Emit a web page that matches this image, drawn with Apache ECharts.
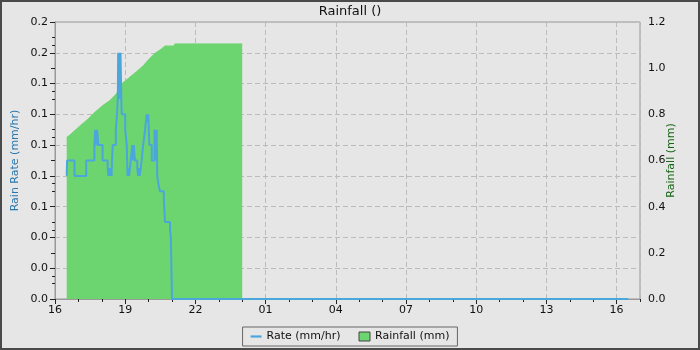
<!DOCTYPE html>
<html><head><meta charset="utf-8">
<script src="https://cdn.jsdelivr.net/npm/echarts@6/dist/echarts.min.js"></script>
<style>
html,body{margin:0;padding:0;background:#4a4a4a;}
#c{width:700px;height:350px;box-sizing:border-box;border:2px solid #4a4a4a;background:#e6e6e6;}
</style></head>
<body><div id="c"></div>
<script>
// x axis: hours after 16:00 (day 1); "+1 " prefix = next day
const xTickLabels = ['16','19','22','01','04','07','10','13','16'];
const rateTimes = ['16:30','16:31','16:50','17:20','17:41','17:43','17:44','17:45','17:47','17:48','17:51','18:02','18:15','18:17','18:19','18:21','18:23','18:25','18:26','18:28','18:36','18:39','18:41','18:42','18:44','18:45','18:47','18:48','18:50','18:51','19:00','19:04','19:06','19:08','19:10','19:12','19:14','19:18','19:20','19:22','19:25','19:31','19:33','19:35','19:37','19:40','19:42','19:46','19:51','19:55','19:57','19:59','20:02','20:08','20:15','20:17','20:18','20:20','20:21','20:22','20:25','20:29','20:39','20:42','20:55','20:57','21:00','+1 16:30'];
const rateValues = [0.08,0.09,0.08,0.09,0.10,0.11,0.10,0.11,0.10,0.11,0.10,0.09,0.085,0.08,0.085,0.08,0.085,0.08,0.09,0.10,0.11,0.12,0.13,0.16,0.13,0.16,0.13,0.16,0.13,0.12,0.11,0.10,0.08,0.085,0.08,0.085,0.09,0.10,0.09,0.10,0.09,0.085,0.08,0.085,0.08,0.085,0.09,0.10,0.11,0.12,0.115,0.12,0.10,0.09,0.11,0.09,0.11,0.10,0.11,0.08,0.075,0.07,0.065,0.05,0.045,0.04,0,0];
const rainTimes = ['16:30','16:38','16:51','17:04','17:25','17:43','18:04','18:21','18:38','18:49','19:04','19:29','19:46','19:59','20:16','20:32','20:42','21:06','21:07','+1 00:00'];
const rainValues = [0.70,0.71,0.73,0.75,0.78,0.81,0.84,0.86,0.89,0.93,0.95,0.985,1.01,1.035,1.064,1.082,1.096,1.096,1.105,1.105];

function toH(t){
  let day = 0;
  if (t.startsWith('+1 ')) { day = 1; t = t.slice(3); }
  const [h,m] = t.split(':').map(Number);
  return day*24 + h + m/60 - 16;
}
const rateData = rateTimes.map((t,i)=>[toH(t), rateValues[i]]);
const rainData = rainTimes.map((t,i)=>[toH(t), rainValues[i]]);

const FONT = 'DejaVu Sans';
const chart = echarts.init(document.getElementById('c'), null, {renderer:'canvas'});
chart.setOption({
  animation:false,
  backgroundColor:'#e6e6e6',
  textStyle:{fontFamily:FONT},
  title:{text:'Rainfall ()', left:'center', top:-2, textStyle:{fontFamily:FONT, fontSize:13, fontWeight:'normal', color:'#111'}},
  grid:{left:53, top:20, width:585, height:277, show:true, borderColor:'#999', borderWidth:1, backgroundColor:'transparent', containLabel:false, outerBoundsMode:'none'},
  legend:{
    top:325, left:'center', padding:[4,8,4,8], itemGap:18, itemWidth:11, itemHeight:9,
    borderColor:'#666', borderWidth:1, borderRadius:0,
    textStyle:{fontFamily:FONT, fontSize:11, color:'#111'},
    data:[
      {name:'Rate (mm/hr)', icon:'path://M0,0 L20,0 L20,4 L0,4 Z'},
      {name:'Rainfall (mm)', icon:'rect', itemStyle:{borderColor:'#444', borderWidth:1}}
    ]
  },
  xAxis:[{
    type:'value', min:0, max:25, interval:3,
    axisLine:{show:true, lineStyle:{color:'#999'}},
    axisTick:{show:true, length:5, lineStyle:{color:'#222'}},
    axisLabel:{color:'#111', fontSize:11, margin:6, showMaxLabel:false,
      formatter:v=>{ const i=Math.round(v/3); return (Math.abs(v-3*i)<1e-6 && xTickLabels[i]!==undefined) ? xTickLabels[i] : ''; }},
    splitLine:{show:true, lineStyle:{color:'#bbb', type:[5,3]}}
  },{
    type:'value', min:0, max:25, interval:1, position:'bottom',
    axisLine:{show:false}, axisLabel:{show:false}, splitLine:{show:false},
    axisTick:{show:true, length:3, lineStyle:{color:'#222'}}
  }],
  yAxis:[{
    type:'value', min:0, max:0.18, interval:0.02, position:'left',
    name:'Rain Rate (mm/hr)', nameLocation:'middle', nameGap:34, nameRotate:90, nameMoveOverlap:false,
    nameTextStyle:{color:'#2a78b0', fontSize:11, fontFamily:FONT},
    axisLine:{show:true, lineStyle:{color:'#999'}},
    axisTick:{show:true, length:5, lineStyle:{color:'#222'}},
    minorTick:{show:true, splitNumber:2, length:3, lineStyle:{color:'#222'}},
    axisLabel:{color:'#111', fontSize:11, margin:7, formatter:v=>v.toFixed(1)},
    splitLine:{show:true, lineStyle:{color:'#bbb', type:[5,3]}}
  },{
    type:'value', min:0, max:1.2, interval:0.2, position:'right',
    name:'Rainfall (mm)', nameLocation:'middle', nameGap:26, nameRotate:90, nameMoveOverlap:false,
    nameTextStyle:{color:'#176617', fontSize:11, fontFamily:FONT},
    axisLine:{show:true, lineStyle:{color:'#999'}},
    axisTick:{show:true, inside:true, length:4, lineStyle:{color:'#222'}},
    minorTick:{show:true, splitNumber:2, length:3, lineStyle:{color:'#222'}},
    axisLabel:{color:'#111', fontSize:11, margin:8, formatter:v=>v.toFixed(1)},
    splitLine:{show:false}
  }],
  series:[{
    name:'Rate (mm/hr)', type:'line', step:'end', yAxisIndex:0, xAxisIndex:0,
    data:rateData, showSymbol:false, symbol:'none', z:3,
    color:'#4ba6dc', lineStyle:{color:'#4ba6dc', width:2}
  },{
    name:'Rainfall (mm)', type:'line', yAxisIndex:1, xAxisIndex:0,
    data:rainData, showSymbol:false, symbol:'none', z:2,
    color:'#6dd56f', lineStyle:{color:'#6dd56f', width:1},
    areaStyle:{color:'#6dd56f', opacity:1}
  }]
});
</script></body></html>
